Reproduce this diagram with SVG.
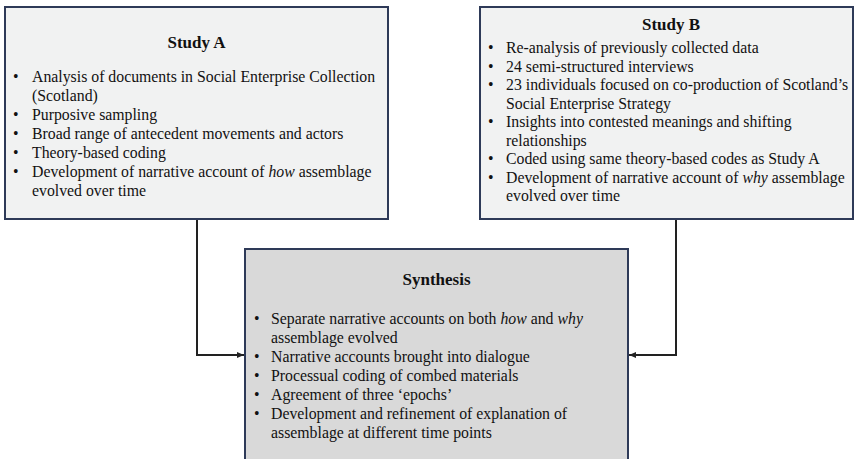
<svg xmlns="http://www.w3.org/2000/svg" width="858" height="459" viewBox="0 0 858 459">
  <style>
    .box { stroke: #2e3a58; stroke-width: 2; }
    .study { fill: #f1f2f2; }
    .synth { fill: #d9d9d9; }
    text { font-family: "Liberation Serif", "Times New Roman", serif; fill: #111; }
    .title { font-size: 17px; font-weight: bold; text-anchor: middle; }
    .body { font-size: 15.8px; }
    .link { fill: none; stroke: #222; stroke-width: 2; }
  </style>
  <defs>
    <marker id="arrow" markerWidth="7" markerHeight="6" refX="7" refY="3" orient="auto" markerUnits="userSpaceOnUse">
      <path d="M0,0 L7,3 L0,6 Z" fill="#222"/>
    </marker>
  </defs>
  <rect width="858" height="459" fill="#ffffff"/>

  <g id="connectors">
    <path class="link" d="M197,219 V355 H244" marker-end="url(#arrow)"/>
    <path class="link" d="M676,219 V355 H629" marker-end="url(#arrow)"/>
  </g>

  <g id="study-a">
    <rect class="box study" x="5" y="7" width="383" height="212"/>
    <text class="title" x="196.5" y="48">Study A</text>
    <g class="body">
      <text x="13" y="82">•</text><text x="32" y="82">Analysis of documents in Social Enterprise Collection</text>
      <text x="32" y="101">(Scotland)</text>
      <text x="13" y="120">•</text><text x="32" y="120">Purposive sampling</text>
      <text x="13" y="139">•</text><text x="32" y="139">Broad range of antecedent movements and actors</text>
      <text x="13" y="158">•</text><text x="32" y="158">Theory-based coding</text>
      <text x="13" y="177">•</text><text x="32" y="177">Development of narrative account of <tspan font-style="italic">how</tspan> assemblage</text>
      <text x="32" y="196">evolved over time</text>
    </g>
  </g>

  <g id="study-b">
    <rect class="box study" x="480" y="7" width="373" height="212"/>
    <text class="title" x="671" y="30">Study B</text>
    <g class="body">
      <text x="488" y="53">•</text><text x="506" y="53">Re-analysis of previously collected data</text>
      <text x="488" y="71.5">•</text><text x="506" y="71.5">24 semi-structured interviews</text>
      <text x="488" y="90">•</text><text x="506" y="90">23 individuals focused on co-production of Scotland’s</text>
      <text x="506" y="108.5">Social Enterprise Strategy</text>
      <text x="488" y="127">•</text><text x="506" y="127">Insights into contested meanings and shifting</text>
      <text x="506" y="145.5">relationships</text>
      <text x="488" y="164">•</text><text x="506" y="164">Coded using same theory-based codes as Study A</text>
      <text x="488" y="182.5">•</text><text x="506" y="182.5">Development of narrative account of <tspan font-style="italic">why</tspan> assemblage</text>
      <text x="506" y="201">evolved over time</text>
    </g>
  </g>

  <g id="synthesis">
    <rect class="box synth" x="245" y="249" width="383" height="215"/>
    <text class="title" x="436.5" y="285">Synthesis</text>
    <g class="body">
      <text x="254" y="324">•</text><text x="271" y="324">Separate narrative accounts on both <tspan font-style="italic">how</tspan> and <tspan font-style="italic">why</tspan></text>
      <text x="271" y="343">assemblage evolved</text>
      <text x="254" y="362">•</text><text x="271" y="362">Narrative accounts brought into dialogue</text>
      <text x="254" y="381">•</text><text x="271" y="381">Processual coding of combed materials</text>
      <text x="254" y="399.5">•</text><text x="271" y="399.5">Agreement of three ‘epochs’</text>
      <text x="254" y="418.5">•</text><text x="271" y="418.5">Development and refinement of explanation of</text>
      <text x="271" y="437.5">assemblage at different time points</text>
    </g>
  </g>
</svg>
